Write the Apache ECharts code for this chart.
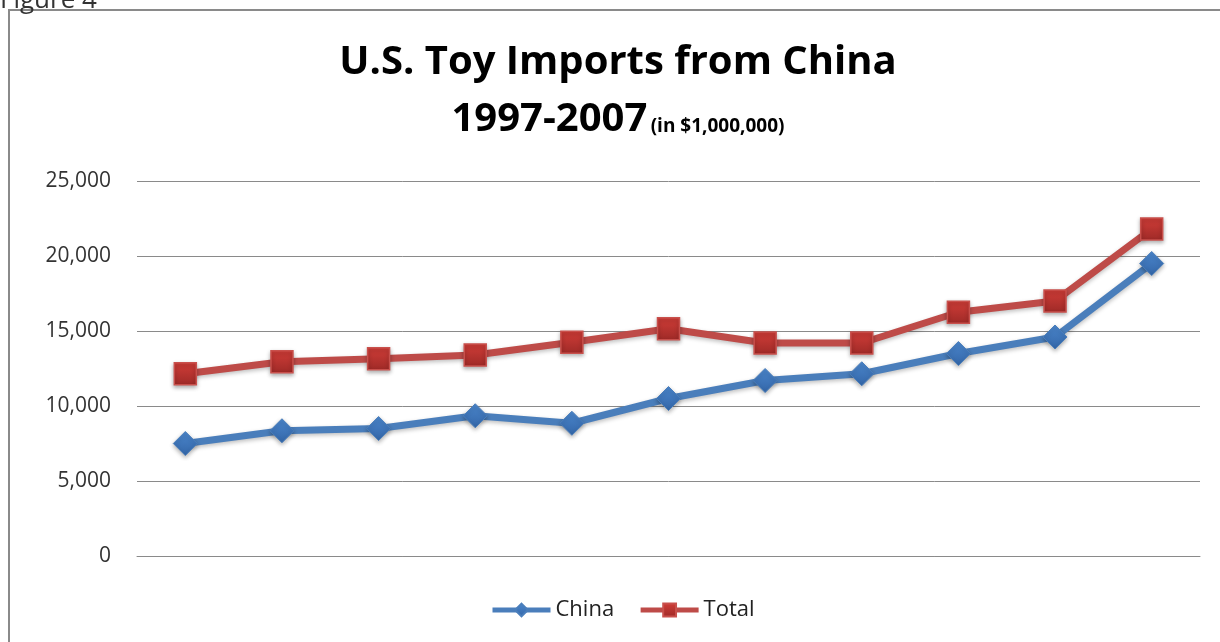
<!DOCTYPE html>
<html>
<head>
<meta charset="utf-8">
<script src="https://cdn.jsdelivr.net/npm/echarts@6/dist/echarts.min.js"></script>
<style>
  html, body { margin: 0; padding: 0; background: #fff; }
  #main { width: 1220px; height: 642px; }
</style>
</head>
<body>
<div id="main"></div>
<script>
// years 1997-2007 (not labelled on the axis in the original)
var years = ['1997', '1998', '1999', '2000', '2001', '2002', '2003', '2004', '2005', '2006', '2007'];
var china = [7500, 8350, 8500, 9350, 8850, 10500, 11700, 12150, 13500, 14600, 19500];
var total = [12150, 12950, 13150, 13400, 14250, 15150, 14200, 14200, 16250, 17000, 21800];
var yTicks = [0, 5000, 10000, 15000, 20000, 25000];

var font = '"Open Sans", "Noto Sans", sans-serif';

function fmt(v) {
    return v.toLocaleString('en-US');
}

window.addEventListener('load', function () {
    var chart = echarts.init(document.getElementById('main'));

    var option = {
        backgroundColor: '#fff',
        animation: false,
        graphic: [
            {
                type: 'rect',
                shape: { x: 9, y: 10, width: 1230, height: 660 },
                style: { fill: 'none', stroke: '#8a8a8a', lineWidth: 2 }
            },
            {
                type: 'text',
                left: 0, top: -12,
                style: { text: 'Figure 4', font: '26px ' + font, fill: '#333' }
            },
            {
                type: 'text',
                x: 618, y: 63,
                style: {
                    text: 'U.S. Toy Imports from China',
                    font: 'bold 40px ' + font,
                    fill: '#000',
                    align: 'center',
                    verticalAlign: 'middle'
                }
            },
            {
                type: 'text',
                x: 618, y: 120,
                style: {
                    text: '{a|1997-2007} {b|(in $1,000,000)}',
                    align: 'center',
                    verticalAlign: 'middle',
                    rich: {
                        a: { font: 'bold 40px ' + font, fill: '#000' },
                        b: { font: 'bold 19px ' + font, fill: '#000', padding: [14, 0, 0, 0] }
                    }
                }
            }
        ],
        grid: { left: 137, right: 20, top: 181, bottom: 86 },
        legend: {
            bottom: 16,
            left: 485,
            itemWidth: 58,
            itemHeight: 16,
            itemGap: 24,
            lineStyle: { width: 5 },
            textStyle: { fontFamily: font, fontSize: 22, color: '#222' },
            data: ['China', 'Total']
        },
        xAxis: {
            type: 'category',
            data: years,
            boundaryGap: true,
            axisLine: { show: true, lineStyle: { color: '#8a8a8a', width: 1 } },
            axisTick: { show: false },
            axisLabel: { show: false }
        },
        yAxis: {
            type: 'value',
            min: yTicks[0],
            max: yTicks[yTicks.length - 1],
            interval: 5000,
            axisLine: { show: false },
            axisTick: { show: false },
            splitLine: { lineStyle: { color: '#8a8a8a', width: 1 } },
            axisLabel: {
                margin: 26,
                fontFamily: font,
                fontSize: 21,
                color: '#333',
                formatter: fmt
            }
        },
        series: [
            {
                name: 'China',
                type: 'line',
                data: china,
                symbol: 'diamond',
                symbolSize: 24,
                lineStyle: {
                    color: '#4A7EBB', width: 7,
                    shadowColor: 'rgba(0,0,0,0.25)', shadowBlur: 4, shadowOffsetY: 2
                },
                itemStyle: {
                    color: new echarts.graphic.LinearGradient(0, 0, 0, 1, [
                        { offset: 0, color: '#4b86cc' },
                        { offset: 1, color: '#3366a8' }
                    ]),
                    borderColor: '#4A7EBB',
                    borderWidth: 1,
                    shadowColor: 'rgba(0,0,0,0.3)', shadowBlur: 4, shadowOffsetY: 2
                },
                z: 3
            },
            {
                name: 'Total',
                type: 'line',
                data: total,
                symbol: 'rect',
                symbolSize: 22,
                lineStyle: {
                    color: '#BE4B48', width: 7,
                    shadowColor: 'rgba(0,0,0,0.25)', shadowBlur: 4, shadowOffsetY: 2
                },
                itemStyle: {
                    color: new echarts.graphic.LinearGradient(0, 0, 0, 1, [
                        { offset: 0, color: '#d13d38' },
                        { offset: 1, color: '#9e2a27' }
                    ]),
                    borderColor: '#c9504c',
                    borderWidth: 1.5,
                    shadowColor: 'rgba(0,0,0,0.3)', shadowBlur: 4, shadowOffsetY: 2
                },
                z: 2
            }
        ]
    };

    chart.setOption(option);
});
</script>
</body>
</html>
